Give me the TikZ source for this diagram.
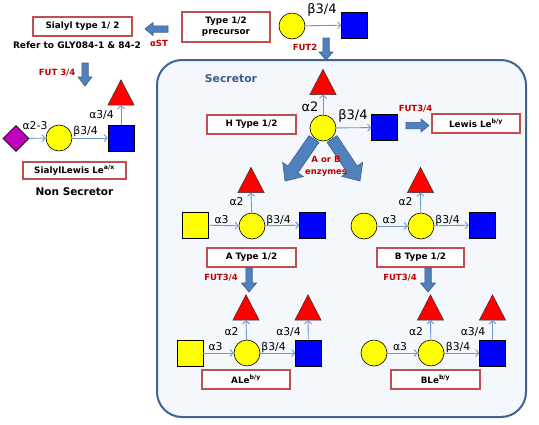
\documentclass[tikz,border=0pt]{standalone}
\usepackage{fontspec}
\setmainfont{DejaVu Sans}
\usetikzlibrary{arrows.meta,shapes.geometric,calc}
\definecolor{boxred}{HTML}{C0504D}
\definecolor{linkblue}{HTML}{6F96CF}
\definecolor{arrfill}{HTML}{4F81BD}
\definecolor{arredge}{HTML}{385D8A}
\definecolor{fred}{HTML}{C00000}
\definecolor{secfill}{HTML}{F4F7FB}
\definecolor{secedge}{HTML}{41648F}
\definecolor{secblue}{HTML}{3B5C8C}
\definecolor{purp}{HTML}{C000C0}
\definecolor{glyblue}{HTML}{0000FF}
\definecolor{glyyellow}{HTML}{FFFF00}
\definecolor{fucred}{HTML}{FF0000}
\newcommand\boxfont{\fontsize{8.8}{11}\selectfont\bfseries}
\newcommand\plainfont{\fontsize{9}{11}\selectfont\bfseries}
\newcommand\redfont{\fontsize{8.5}{12}\selectfont\bfseries}
\newcommand\linkfontL{\fontsize{13}{14}\selectfont}
\newcommand\linkfontS{\fontsize{10.8}{12}\selectfont}
% block arrow: tail, tip, half shaft, half head, head length
\newcommand\blockarr[5]{%
  \coordinate (bahead) at ($(#2)!#5!(#1)$);
  \draw[blockarrow] ($(#1)!#3!90:(#2)$) -- ($(bahead)!#3!90:(#2)$) -- ($(bahead)!#4!90:(#2)$) -- (#2)
    -- ($(bahead)!#4!-90:(#2)$) -- ($(bahead)!#3!-90:(#2)$) -- ($(#1)!#3!-90:(#2)$) -- cycle;}
\newcommand\fuc[2]{%
  \node[fucbox] (#1) at #2 {};
  \draw[fucstyle] (#1.south west) -- (#1.south east) -- (#1.north) -- cycle;}
\tikzset{
  namebox/.style={draw=boxred, line width=2.8pt, fill=white, inner sep=0pt, font=\boxfont, align=center},
  glc/.style={circle, draw=black, line width=0.6pt, fill=glyyellow, minimum size=26pt, inner sep=0pt},
  glsqb/.style={rectangle, draw=black, line width=0.6pt, fill=glyblue, minimum size=26pt, inner sep=0pt},
  glsqy/.style={rectangle, draw=black, line width=0.6pt, fill=glyyellow, minimum size=26pt, inner sep=0pt},
  sialic/.style={diamond, draw=black, line width=0.6pt, fill=purp, minimum size=26pt, inner sep=0pt},
  fucbox/.style={rectangle, minimum width=26pt, minimum height=25pt, inner sep=0pt},
  fucstyle/.style={fill=fucred, draw=black!80, line width=0.5pt},
  link/.style={draw=linkblue, line width=0.9pt, -{Straight Barb[length=3pt,width=7pt]}},
  labL/.style={font=\linkfontL, inner sep=0pt},
  labS/.style={font=\linkfontS, inner sep=0pt},
  redlab/.style={font=\redfont, text=fred, inner sep=0pt, align=center},
  plain/.style={font=\plainfont, inner sep=0pt},
  blockarrow/.style={fill=arrfill, draw=arredge, line width=0.6pt, line join=miter},
  secbox/.style={draw=secedge, line width=2pt, fill=secfill, rounded corners=25pt, inner sep=0pt}
}
\begin{document}
\begin{tikzpicture}[x=1pt, y=-1pt]
\useasboundingbox (0,0) rectangle (539,424);

% Secretor region
\node[secbox, minimum width=369pt, minimum height=357pt] (sec) at (341.5,238.5) {};
\node[font=\fontsize{10.8}{12}\selectfont\bfseries, text=secblue, inner sep=0pt] (sectitle) at (231,79) {Secretor};

% ---- top: precursor
\node[namebox, minimum width=88pt, minimum height=30pt] (prebox) at (226,27) {Type 1/2\\precursor};
\node[glc] (pc) at (292,26) {};
\node[glsqb] (ps) at (354.5,25) {};
\draw[link] (pc) -- (ps);
\node[labL] (pl1) at (322,10) {β3/4};
\node[redlab] (fut2) at (305,47) {FUT2};
\coordinate (f2a) at (326,38);
\coordinate (f2b) at (326,60);
\blockarr{f2a}{f2b}{3.2pt}{7pt}{8pt}

% ---- sialyl
\node[namebox, minimum width=99pt, minimum height=19pt] (sialbox) at (82.5,26.5) {Sialyl type 1/ 2};
\node[plain] (refer) at (77,45) {Refer to GLY084-1 \& 84-2};
\node[redlab] (ast) at (159,43) {αST};
\coordinate (sta) at (168,29);
\coordinate (stb) at (145,29);
\blockarr{sta}{stb}{3.2pt}{6.5pt}{8pt}

% ---- non secretor
\node[redlab] (fut34n) at (57,73) {FUT 3/4};
\coordinate (nfa) at (85,63);
\coordinate (nfb) at (85,86);
\blockarr{nfa}{nfb}{3.2pt}{7pt}{9pt}
\fuc{nT}{(121,92.5)}
\node[sialic] (nD) at (16,138.5) {};
\node[glc] (nC) at (59,138) {};
\node[glsqb] (nS) at (121,138) {};
\draw[link] (nD) -- (nC);
\draw[link] (nC) -- (nS);
\draw[link] (nS) -- (nT.south);
\node[labS] (nl1) at (35,126) {α2-3};
\node[labS] (nl2) at (85.5,131) {β3/4};
\node[labS] (nl3) at (101.5,115) {α3/4};
\node[namebox, minimum width=103pt, minimum height=17pt] (slebox) at (74.5,170.5) {SialylLewis Le\textsuperscript{a/x}};
\node[font=\fontsize{10.5}{12}\selectfont\bfseries, inner sep=0pt] (nonsec) at (74.5,192) {Non Secretor};

% ---- H type
\coordinate (dla) at (314,139);
\coordinate (dlb) at (285,181);
\coordinate (dra) at (332,139);
\coordinate (drb) at (360,181);
\blockarr{dla}{dlb}{6pt}{12.5pt}{14pt}
\blockarr{dra}{drb}{6pt}{12.5pt}{14pt}
\fuc{hT}{(323,82)}
\node[glc] (hC) at (323,128) {};
\node[glsqb] (hS) at (384.5,127.5) {};
\draw[link] (hC) -- (hT.south);
\draw[link] (hC) -- (hS);
\node[labL] (hl1) at (310,107) {α2};
\node[labL] (hl2) at (353,116) {β3/4};
\node[namebox, minimum width=89pt, minimum height=19pt] (hbox) at (251.5,124.5) {H Type 1/2};
\node[redlab] (fut34h) at (415.5,109) {FUT3/4};
\coordinate (lwa) at (406,125.5);
\coordinate (lwb) at (429,125.5);
\blockarr{lwa}{lwb}{3.2pt}{6.5pt}{8pt}
\node[namebox, minimum width=88pt, minimum height=19pt] (lewbox) at (476,123.5) {Lewis Le\textsuperscript{b/y}};
\node[redlab] (enz) at (326,166) {A or B\\enzymes};

% ---- A type
\fuc{aT}{(251,180)}
\node[glsqy] (aY) at (195,225) {};
\node[glc] (aC) at (252,226) {};
\node[glsqb] (aS) at (312.5,225) {};
\draw[link] (aY) -- (aC);
\draw[link] (aC) -- (aS);
\draw[link] (aC) -- (aT.south);
\node[labS] (al1) at (236.5,202) {α2};
\node[labS] (al2) at (221.5,220) {α3};
\node[labS] (al3) at (278.5,220) {β3/4};
\node[namebox, minimum width=89pt, minimum height=19pt] (abox) at (251.5,257.5) {A Type 1/2};
\node[redlab] (fut34a) at (221,278) {FUT3/4};
\coordinate (aaa) at (249,268);
\coordinate (aab) at (249,292);
\blockarr{aaa}{aab}{3.2pt}{7.5pt}{9pt}

% ---- B type
\fuc{bT}{(420.5,180)}
\node[glc] (bC1) at (364,226) {};
\node[glc] (bC2) at (421,226) {};
\node[glsqb] (bS) at (482,225) {};
\draw[link] (bC1) -- (bC2);
\draw[link] (bC2) -- (bS);
\draw[link] (bC2) -- (bT.south);
\node[labS] (bl1) at (405.5,202) {α2};
\node[labS] (bl2) at (389.5,220) {α3};
\node[labS] (bl3) at (447.5,220) {β3/4};
\node[namebox, minimum width=87pt, minimum height=19pt] (bbox) at (420.5,257.5) {B Type 1/2};
\node[redlab] (fut34b) at (400,278) {FUT3/4};
\coordinate (bba) at (428,268);
\coordinate (bbb) at (428,292);
\blockarr{bba}{bbb}{3.2pt}{7.5pt}{9pt}

% ---- ALe
\fuc{alT1}{(246,307.5)}
\fuc{alT2}{(308,307.5)}
\node[glsqy] (alY) at (190,353) {};
\node[glc] (alC) at (247,353) {};
\node[glsqb] (alS) at (308.5,353) {};
\draw[link] (alY) -- (alC);
\draw[link] (alC) -- (alS);
\draw[link] (alC) -- (alT1.south);
\draw[link] (alS) -- (alT2.south);
\node[labS] (all1) at (231.5,332) {α2};
\node[labS] (all2) at (288.5,332) {α3/4};
\node[labS] (all3) at (215.5,347) {α3};
\node[labS] (all4) at (273.5,347) {β3/4};
\node[namebox, minimum width=88pt, minimum height=19pt] (alebox) at (246,379.5) {ALe\textsuperscript{b/y}};

% ---- BLe
\fuc{blT1}{(430.5,307.5)}
\fuc{blT2}{(492.5,307.5)}
\node[glc] (blC1) at (374,353) {};
\node[glc] (blC2) at (431,353) {};
\node[glsqb] (blS) at (492.5,353) {};
\draw[link] (blC1) -- (blC2);
\draw[link] (blC2) -- (blS);
\draw[link] (blC2) -- (blT1.south);
\draw[link] (blS) -- (blT2.south);
\node[labS] (bll1) at (416,332) {α2};
\node[labS] (bll2) at (473,332) {α3/4};
\node[labS] (bll3) at (400,347) {α3};
\node[labS] (bll4) at (458,347) {β3/4};
\node[namebox, minimum width=89pt, minimum height=19pt] (blebox) at (435.5,379.5) {BLe\textsuperscript{b/y}};
\end{tikzpicture}
\end{document}
